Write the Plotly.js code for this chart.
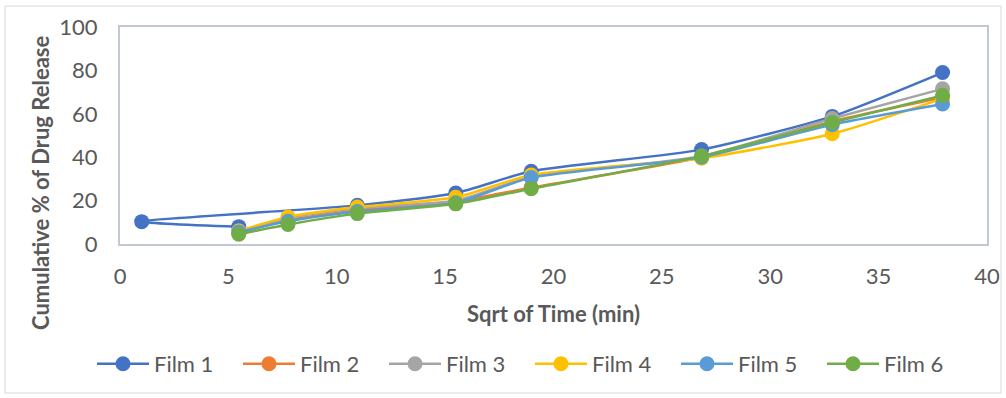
<!DOCTYPE html>
<html>
<head>
<meta charset="utf-8">
<script src="https://cdn.plot.ly/plotly-3.0.1.min.js"></script>
<style>
  html, body { margin: 0; padding: 0; background: #ffffff; }
  #chart { width: 1006px; height: 398px; }
</style>
</head>
<body>
<div id="chart"></div>
<script>
// Square root of sampling time (min): 30, 60, 120, 240, 360, 720, 1080, 1440 min
const sqrtTime = [5.48, 7.75, 10.95, 15.49, 18.97, 26.83, 32.86, 37.95];
// Film 1 was logged with its second time point entered as 1
const sqrtTimeFilm1 = [5.48, 1, 10.95, 15.49, 18.97, 26.83, 32.86, 37.95];

// Cumulative % of drug released per film
const film1 = [8.0, 10.3, 17.8, 23.5, 33.5, 43.5, 58.8, 79.0];
const film2 = [5.0, 11.0, 15.5, 19.5, 26.0, 40.0, 56.5, 67.5];
const film3 = [6.0, 12.0, 16.5, 20.0, 31.0, 40.5, 57.8, 71.5];
const film4 = [6.0, 12.5, 17.0, 21.5, 31.8, 39.5, 50.8, 67.0];
const film5 = [5.5, 10.5, 15.0, 19.0, 30.6, 40.0, 55.0, 64.5];
const film6 = [4.5, 9.0, 14.0, 18.5, 25.5, 40.5, 56.0, 68.5];

const seriesNames = ["Film 1", "Film 2", "Film 3", "Film 4", "Film 5", "Film 6"];
const seriesX = [sqrtTimeFilm1, sqrtTime, sqrtTime, sqrtTime, sqrtTime, sqrtTime];
const seriesY = [film1, film2, film3, film4, film5, film6];
const colors = ["#4472C4", "#ED7D31", "#A5A5A5", "#FFC000", "#5B9BD5", "#70AD47"];

const xTicks = [0, 5, 10, 15, 20, 25, 30, 35, 40];
const yTicks = [0, 20, 40, 60, 80, 100];

const traces = seriesNames.map((name, i) => ({
  type: "scatter",
  mode: "lines+markers",
  name: name,
  x: seriesX[i],
  y: seriesY[i],
  line: { color: colors[i], width: 2.5, shape: "spline", smoothing: 0.6 },
  marker: { color: colors[i], size: 15, symbol: "circle" }
}));

const W = 1006, H = 398;
const m = { l: 120, r: 19, t: 27, b: 154 };
const pw = W - m.l - m.r, ph = H - m.t - m.b;
const px = v => (v - m.l) / pw;
const py = v => (H - m.b - v) / ph;

const font = "Lato, 'Open Sans', sans-serif";
const textColor = "#595959";
const fs = 22;

const layout = {
  width: W,
  height: H,
  margin: m,
  paper_bgcolor: "#ffffff",
  plot_bgcolor: "#ffffff",
  font: { family: font, color: textColor, size: fs },
  showlegend: true,
  legend: {
    orientation: "h",
    x: px(92), xanchor: "left",
    y: py(364), yanchor: "middle",
    entrywidth: 79, entrywidthmode: "pixels",
    itemwidth: 52,
    bgcolor: "rgba(0,0,0,0)",
    font: { family: font, size: fs, color: textColor }
  },
  xaxis: {
    range: [0, 40],
    tickvals: xTicks,
    ticktext: xTicks.map(String),
    showgrid: false,
    zeroline: false,
    showline: true,
    mirror: true,
    linecolor: "#C3C9D3",
    linewidth: 2,
    ticks: "",
    ticklabelstandoff: 12,
    tickfont: { size: fs, color: textColor },
    automargin: false,
    fixedrange: true
  },
  yaxis: {
    range: [0, 100],
    tickvals: yTicks,
    ticktext: yTicks.map(String),
    showgrid: false,
    zeroline: false,
    showline: true,
    mirror: true,
    linecolor: "#C3C9D3",
    linewidth: 2,
    ticks: "",
    ticklabelstandoff: 16,
    tickfont: { size: fs, color: textColor },
    automargin: false,
    fixedrange: true
  },
  annotations: [
    {
      text: "<b>Sqrt of Time (min)</b>",
      xref: "paper", yref: "paper",
      x: px(553), y: py(313),
      xanchor: "center", yanchor: "middle",
      showarrow: false,
      font: { size: fs, color: textColor }
    },
    {
      text: "<b>Cumulative % of Drug Release</b>",
      xref: "paper", yref: "paper",
      x: px(40), y: py(183),
      xanchor: "center", yanchor: "middle",
      textangle: -90,
      showarrow: false,
      font: { size: fs, color: textColor }
    }
  ],
  shapes: [{
    type: "rect",
    xref: "paper", yref: "paper",
    x0: px(5), x1: px(1001),
    y0: py(393), y1: py(6),
    line: { color: "#D9D9D9", width: 1 },
    fillcolor: "rgba(0,0,0,0)",
    layer: "below"
  }]
};

Plotly.newPlot("chart", traces, layout, { displayModeBar: false, staticPlot: true });
</script>
</body>
</html>
